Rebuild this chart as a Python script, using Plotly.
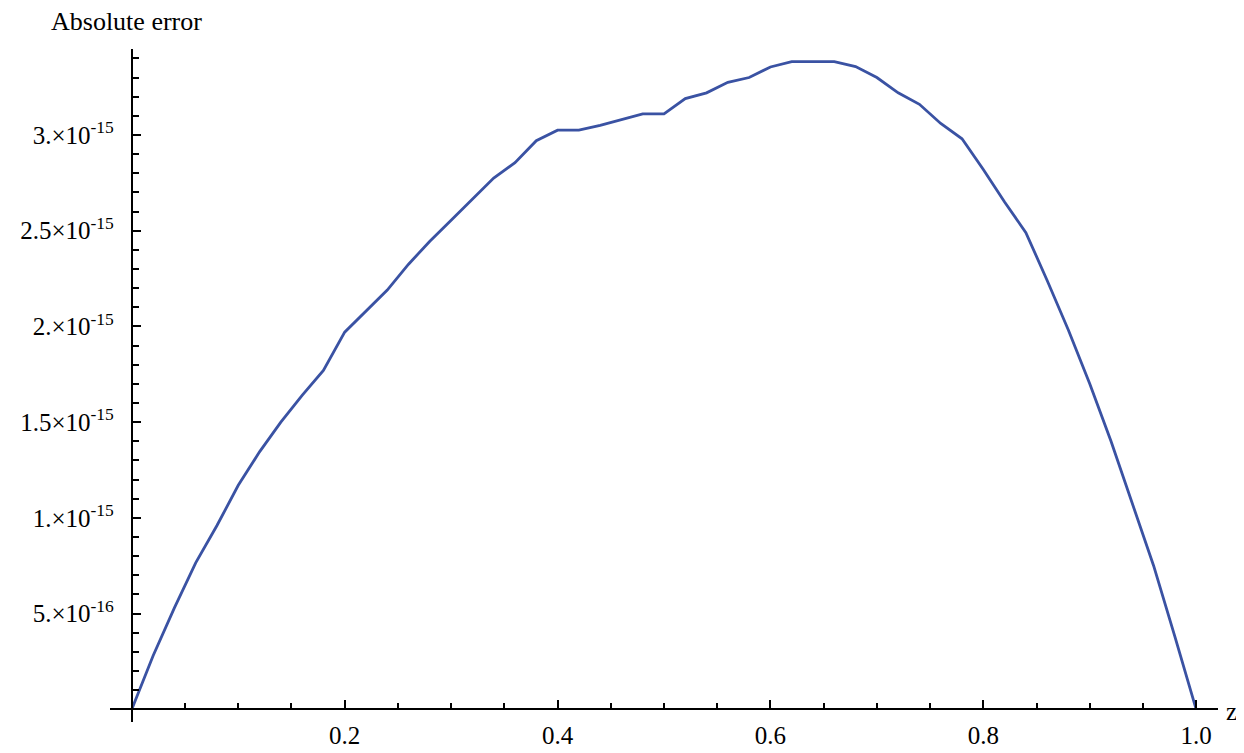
import plotly.graph_objects as go

# data
z_values = [0.00, 0.02, 0.04, 0.06, 0.08, 0.10, 0.12, 0.14, 0.16, 0.18,
            0.20, 0.22, 0.24, 0.26, 0.28, 0.30, 0.32, 0.34, 0.36, 0.38,
            0.40, 0.42, 0.44, 0.46, 0.48, 0.50, 0.52, 0.54, 0.56, 0.58,
            0.60, 0.62, 0.64, 0.66, 0.68, 0.70, 0.72, 0.74, 0.76, 0.78,
            0.80, 0.82, 0.84, 0.86, 0.88, 0.90, 0.92, 0.94, 0.96, 0.98, 1.00]
err_e15 = [0.00, 0.28, 0.53, 0.765, 0.96, 1.17, 1.345, 1.50, 1.64, 1.77,
           1.97, 2.08, 2.19, 2.325, 2.445, 2.555, 2.665, 2.775, 2.855, 2.97,
           3.025, 3.025, 3.05, 3.08, 3.11, 3.11, 3.19, 3.22, 3.275, 3.30,
           3.355, 3.383, 3.383, 3.383, 3.357, 3.30, 3.22, 3.16, 3.06, 2.98,
           2.82, 2.65, 2.49, 2.24, 1.98, 1.70, 1.40, 1.08, 0.75, 0.38, 0.00]
abs_error = [v * 1e-15 for v in err_e15]

x_tick_vals = [0.2, 0.4, 0.6, 0.8, 1.0]
x_tick_text = ["0.2", "0.4", "0.6", "0.8", "1.0"]
y_tick_vals = [5e-16, 1e-15, 1.5e-15, 2e-15, 2.5e-15, 3e-15]
y_tick_text = ["5.×10<sup>-16</sup>", "1.×10<sup>-15</sup>", "1.5×10<sup>-15</sup>",
               "2.×10<sup>-15</sup>", "2.5×10<sup>-15</sup>", "3.×10<sup>-15</sup>"]

FONT = "Liberation Serif, Times New Roman, serif"

fig = go.Figure()
fig.add_trace(go.Scatter(
    x=z_values, y=abs_error, mode="lines",
    line=dict(color="#3a52a3", width=2.8),
    hoverinfo="skip", showlegend=False,
))

fig.update_layout(
    width=1244, height=753,
    margin=dict(l=93, r=34, t=41, b=23),
    paper_bgcolor="white", plot_bgcolor="white",
    font=dict(family=FONT, size=25, color="black"),
    xaxis=dict(
        range=[-0.0205, 1.0205],
        anchor="free", position=13 / 689,
        showline=True, linecolor="black", linewidth=2,
        showgrid=False, zeroline=False,
        tickmode="array", tickvals=x_tick_vals, ticktext=x_tick_text,
        ticks="inside", ticklen=8, tickwidth=1.5, tickcolor="black",
        ticklabelstandoff=4,
        minor=dict(tickmode="linear", tick0=0, dtick=0.05, ticks="inside",
                   ticklen=5, tickwidth=1.5, tickcolor="black", showgrid=False),
        tickfont=dict(family=FONT, size=25, color="black"),
    ),
    yaxis=dict(
        range=[-6.63e-17, 3.449e-15],
        anchor="free", position=22 / 1117,
        showline=True, linecolor="black", linewidth=2,
        showgrid=False, zeroline=False,
        tickmode="array", tickvals=y_tick_vals, ticktext=y_tick_text,
        ticks="inside", ticklen=8, tickwidth=1.5, tickcolor="black",
        ticklabelstandoff=12,
        minor=dict(tickmode="linear", tick0=0, dtick=1e-16, ticks="inside",
                   ticklen=6, tickwidth=1.5, tickcolor="black", showgrid=False),
        tickfont=dict(family=FONT, size=25, color="black"),
    ),
    annotations=[
        dict(text="Absolute error", xref="paper", yref="paper",
             x=(32 - 93) / 1117, y=1 + (41 - 13) / 689,
             xanchor="left", yanchor="middle", showarrow=False,
             font=dict(family=FONT, size=26, color="black")),
        dict(text="z", xref="paper", yref="paper",
             x=(1217 - 93) / 1117, y=(730 - 719) / 689,
             xanchor="left", yanchor="middle", showarrow=False,
             borderpad=0,
             font=dict(family=FONT, size=25, color="black")),
    ],
)

fig.write_html("out.html")
